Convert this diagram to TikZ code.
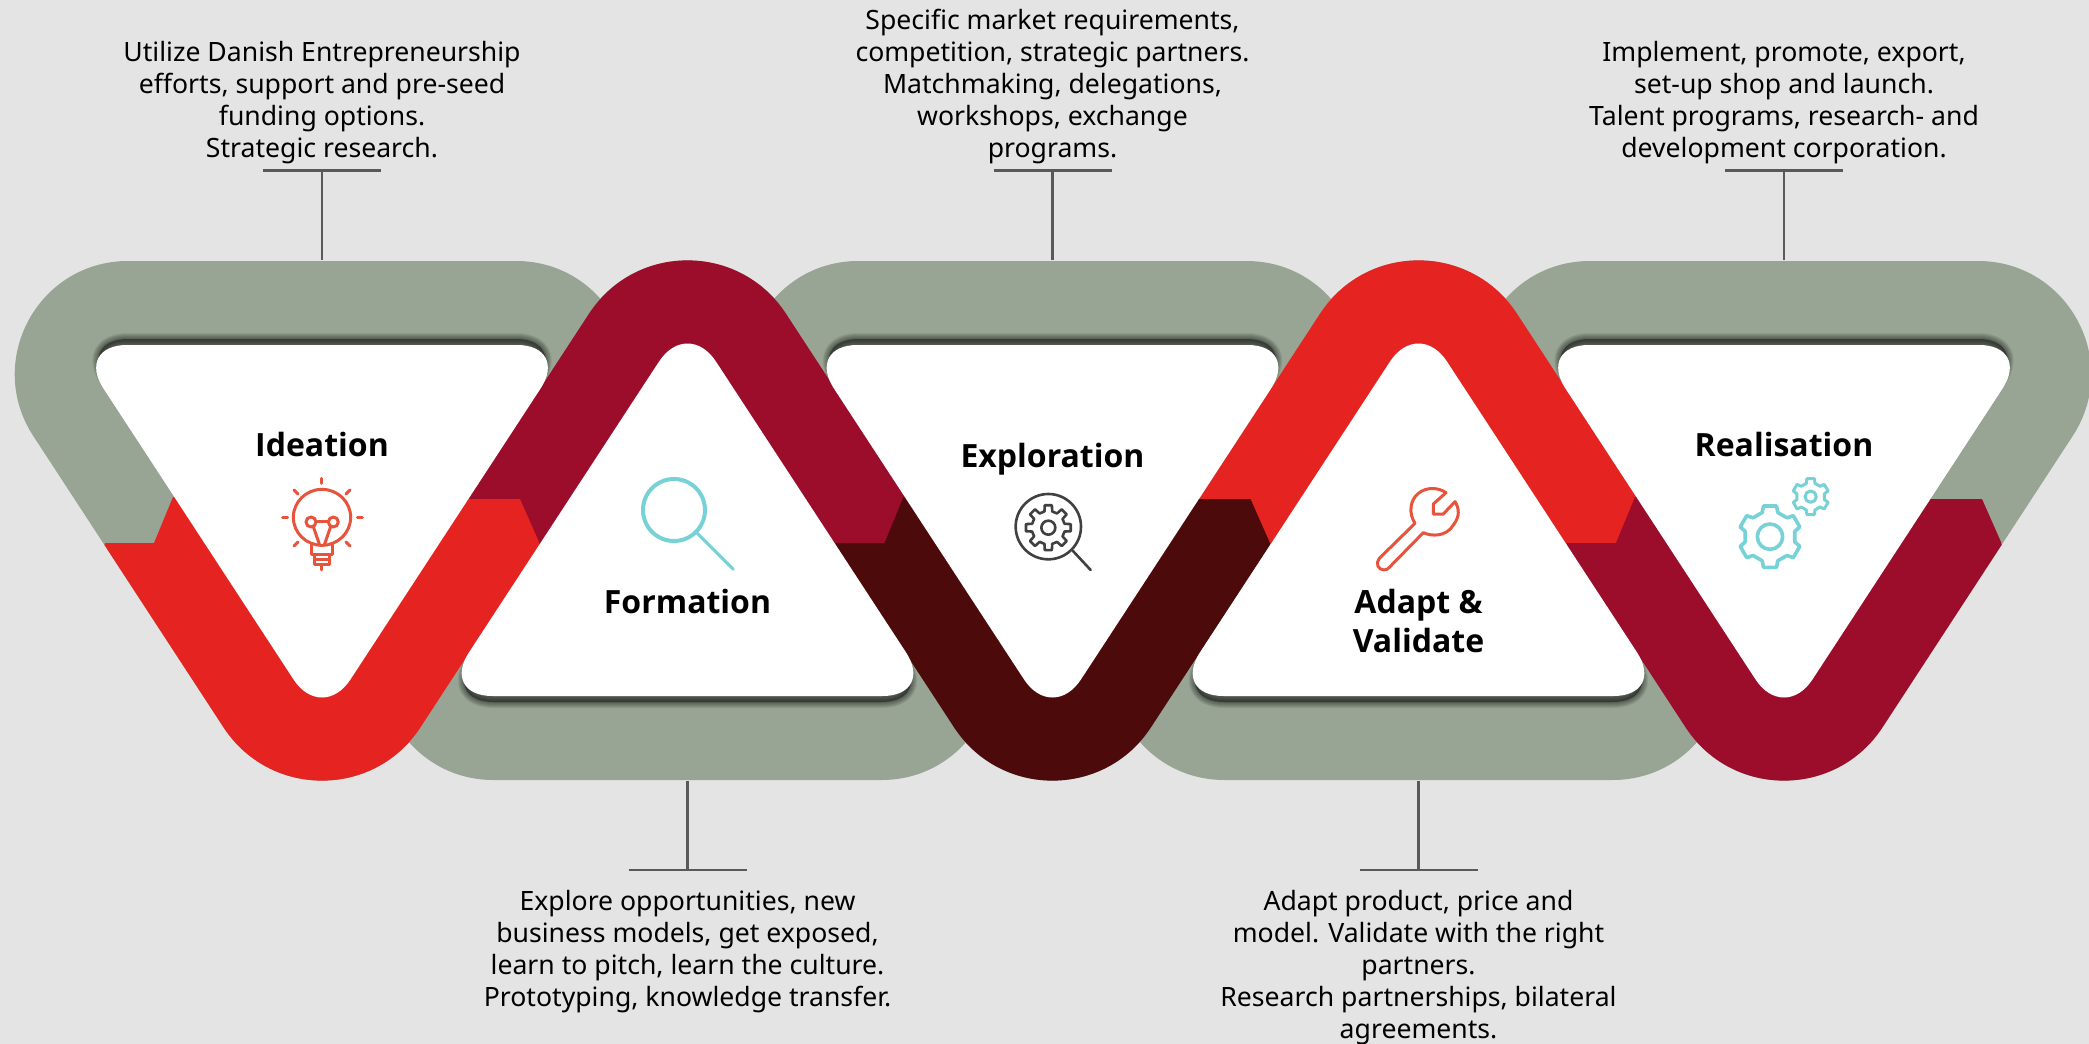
\documentclass[tikz,border=0pt]{standalone}
\usepackage{fontspec}
\setmainfont{Noto Sans}
\newfontfamily\headfont{Open Sans}
\definecolor{bgc}{HTML}{E4E4E4}
\definecolor{sage}{HTML}{98A594}
\definecolor{brightred}{HTML}{E52321}
\definecolor{wine}{HTML}{9C0D2C}
\definecolor{umber}{HTML}{4C0B0A}
\definecolor{tbar}{HTML}{595959}
\definecolor{coral}{HTML}{E8533C}
\definecolor{teal}{HTML}{76D2D6}
\definecolor{iconink}{HTML}{404040}
\tikzset{
  ring/.style={fill=sage,draw=none},
  hole/.style={fill=white,draw=none,rounded corners=52pt},
  body/.style={font=\fontsize{26.6}{32}\selectfont,align=center,inner sep=0pt,text=black},
  head/.style={font=\fontsize{32}{39}\headfont\bfseries,align=center,inner sep=0pt,text=black},
  tee/.style={draw=tbar,line width=2.6pt},
  ico/.style={line width=3pt,line cap=round,line join=round},
  thin ico/.style={line width=2.6pt,line cap=round,line join=round},
}
% outer rounded triangles with circular corners: down and up
\newcommand{\downout}[1]{(#1-194,261) -- (#1+194,261)
  .. controls (#1+283.8,261) and (#1+337.8,360.8) .. (#1+288.7,436)
  -- (#1+98.5,727.3)
  .. controls (#1+52,798.4) and (#1-52,798.4) .. (#1-98.5,727.3)
  -- (#1-288.7,436)
  .. controls (#1-337.8,360.8) and (#1-283.8,261) .. (#1-194,261) -- cycle}
\newcommand{\upout}[1]{(#1-194,780) -- (#1+194,780)
  .. controls (#1+283.8,780) and (#1+337.8,680.2) .. (#1+288.7,605)
  -- (#1+98.5,313.7)
  .. controls (#1+52,242.6) and (#1-52,242.6) .. (#1-98.5,313.7)
  -- (#1-288.7,605)
  .. controls (#1-337.8,680.2) and (#1-283.8,780) .. (#1-194,780) -- cycle}
\newcommand{\downin}[1]{(#1-247,345) -- (#1+247,345) -- (#1,723) -- cycle}
\newcommand{\upin}[1]{(#1-247,696) -- (#1+247,696) -- (#1,318) -- cycle}
% soft shadow, drawn from a slightly narrower triangle
\newcommand{\softshadow}[2]{%
  \foreach \w in {2,4,...,12}{
    \path[fill=black,draw=black,opacity=.08,line width=\w pt,line join=round,rounded corners=50pt,yshift=#2]
      #1;
  }%
}
\newcommand{\downsh}[1]{(#1-244,345) -- (#1+244,345) -- (#1,718) -- cycle}
\newcommand{\upsh}[1]{(#1-244,696) -- (#1+244,696) -- (#1,323) -- cycle}
% lower-band clip polygon
\newcommand{\lowerband}[2]{%
  \begin{scope}
    \clip (#1-217,543) -- (#1-168,543) -- (#1-149,497) -- (#1+147,499) -- (#1+198,499) -- (#1+217,542)
       -- (#1+300,900) -- (#1-300,900) -- cycle;
    \fill[#2] \downout{#1};
  \end{scope}%
}
\newcommand{\upperband}[2]{%
  \begin{scope}
    \clip (#1-420,100) rectangle (#1+420,543);
    \fill[#2] \upout{#1};
  \end{scope}%
}
% gear outline centred at the current origin
\newcommand{\gearshape}[4]{% Rout, Rin, teeth, start angle
  \pgfmathsetmacro{\gstep}{360/#3}%
  \pgfmathsetmacro{\gwa}{\gstep*0.30}%
  \pgfmathsetmacro{\gwb}{\gstep*0.20}%
  \draw ({#4-\gwa}:#2)
  \foreach \k [evaluate=\k as \ga using {#4+(\k-1)*\gstep}] in {1,...,#3}{
    -- ({\ga-\gwa}:#2) -- ({\ga-\gwb}:#1) -- ({\ga+\gwb}:#1) -- ({\ga+\gwa}:#2)
  } -- cycle;%
}
\begin{document}
\begin{tikzpicture}[x=1pt,y=-1pt]
\useasboundingbox (0,0) rectangle (2089,1044);
\clip (0,0) rectangle (2089,1044);
\fill[bgc] (0,0) rectangle (2089,1044);

% sage rings
\fill[ring] \downout{322};
\fill[ring] \upout{687.5};
\fill[ring] \downout{1052.5};
\fill[ring] \upout{1418.5};
\fill[ring] \downout{1784};

% shadows
\softshadow{\downsh{322}}{6pt}
\softshadow{\upsh{687.5}}{-6pt}
\softshadow{\downsh{1052.5}}{6pt}
\softshadow{\upsh{1418.5}}{-6pt}
\softshadow{\downsh{1784}}{6pt}

% coloured bands
\upperband{687.5}{wine}
\upperband{1418.5}{brightred}
\lowerband{322}{brightred}
\lowerband{1052.5}{umber}
\lowerband{1784}{wine}

% white triangles
\fill[hole] \downin{322};
\fill[hole] \upin{687.5};
\fill[hole] \downin{1052.5};
\fill[hole] \upin{1418.5};
\fill[hole] \downin{1784};

% headings
\node[head] (hIdeation) at (322,444) {Ideation};
\node[head] (hFormation) at (687.5,601.5) {Formation};
\node[head] (hExploration) at (1052.5,459.5) {Exploration};
\node[head] (hAdapt) at (1418.5,621) {Adapt \&\\Validate};
\node[head] (hRealisation) at (1784,444) {Realisation};

% body texts
\node[body,anchor=south] (tIdeation) at (322,164.5) {Utilize Danish Entrepreneurship\\efforts, support and pre-seed\\funding options.\\Strategic research.};
\node[body,anchor=south] (tExploration) at (1052.5,164.5) {Specific market requirements,\\competition, strategic partners.\\Matchmaking, delegations,\\workshops, exchange\\programs.};
\node[body,anchor=south] (tRealisation) at (1784,164.5) {Implement, promote, export,\\set-up shop and launch.\\Talent programs, research- and\\development corporation.};
\node[body,anchor=north] (tFormation) at (687.5,890.5) {Explore opportunities, new\\business models, get exposed,\\learn to pitch, learn the culture.\\Prototyping, knowledge transfer.};
\node[body,anchor=north] (tAdapt) at (1418.5,890.5) {Adapt product, price and\\model. Validate with the right\\partners.\\Research partnerships, bilateral\\agreements.};

% T connectors
\foreach \nm/\cx in {A/322,B/1052.5,C/1784}{
  \coordinate (bar\nm) at (\cx,170.5);
  \coordinate (barL\nm) at (\cx-59,170.5);
  \coordinate (barR\nm) at (\cx+59,170.5);
  \coordinate (rim\nm) at (\cx,260);
  \draw[tee] (barL\nm) -- (barR\nm);
  \draw[tee] (bar\nm) -- (rim\nm);
}
\foreach \nm/\cx in {D/687.5,E/1418.5}{
  \coordinate (bar\nm) at (\cx,870);
  \coordinate (barL\nm) at (\cx-59,870);
  \coordinate (barR\nm) at (\cx+59,870);
  \coordinate (rim\nm) at (\cx,781);
  \draw[tee] (barL\nm) -- (barR\nm);
  \draw[tee] (bar\nm) -- (rim\nm);
}

% lightbulb icon
\begin{scope}[shift={(260,460)},x=.3333pt,y=-.3333pt,draw=coral,ico]
  \draw (186,172) circle [x radius=86,y radius=84];
  \draw (186,55) -- (186,70);
  \draw (68,174) -- (83,174);
  \draw (292,174) -- (307,174);
  \draw (102,90) -- (114,102);
  \draw (270,90) -- (258,102);
  \draw (102,258) -- (114,246);
  \draw (270,258) -- (258,246);
  \draw (153,186) circle [radius=15];
  \draw (220,186) circle [radius=15];
  \draw (168,186) -- (205,186);
  \draw (160,200) -- (178,252);
  \draw (212,200) -- (194,252);
  \draw (155,254) -- (155,285) -- (218,285) -- (218,254);
  \draw (165,285) -- (165,315) -- (208,315) -- (208,285);
  \draw (165,300) -- (208,300);
  \draw (186,315) -- (186,330);
\end{scope}

% magnifier icon
\begin{scope}[shift={(620,460)},x=.3333pt,y=-.3333pt,draw=teal]
  \draw[ico,line width=4pt] (162,150) circle [radius=93];
  \draw[ico] (232,220) -- (340,328);
\end{scope}

% gear search icon
\begin{scope}[shift={(1000,480)},x=.3333pt,y=-.3333pt,draw=iconink,thin ico]
  \draw (145,140) circle [radius=98];
  \draw (218,212) -- (272,270);
  \draw (145,143) circle [radius=21];
  \begin{scope}[shift={(145,143)}]
    \gearshape{68}{50}{8}{90}
  \end{scope}
\end{scope}

% wrench icon
\begin{scope}[shift={(1360,490)},x=.3333pt,y=-.3333pt,draw=coral,ico]
  \draw (165,100) -- (58,205) .. controls (45,220) and (55,240) .. (72,240)
    .. controls (80,240) and (84,236) .. (88,232) -- (190,128)
    .. controls (215,140) and (260,140) .. (280,105)
    .. controls (300,80) and (298,55) .. (285,35)
    -- (250,72) -- (220,72) -- (220,42) -- (258,8)
    .. controls (235,-8) and (200,-10) .. (175,10)
    .. controls (150,30) and (145,70) .. (165,100) -- cycle;
\end{scope}

% double gear icon
\begin{scope}[shift={(1720,470)},x=.3333pt,y=-.3333pt,draw=teal,ico]
  \begin{scope}[shift={(150,200)},line width=3.6pt]
    \gearshape{94}{76}{6}{90}
    \draw (0,0) circle [radius=38];
  \end{scope}
  \begin{scope}[shift={(272,80)},line width=3pt]
    \gearshape{55}{42}{6}{90}
    \draw (0,0) circle [radius=17];
  \end{scope}
\end{scope}
\end{tikzpicture}
\end{document}
